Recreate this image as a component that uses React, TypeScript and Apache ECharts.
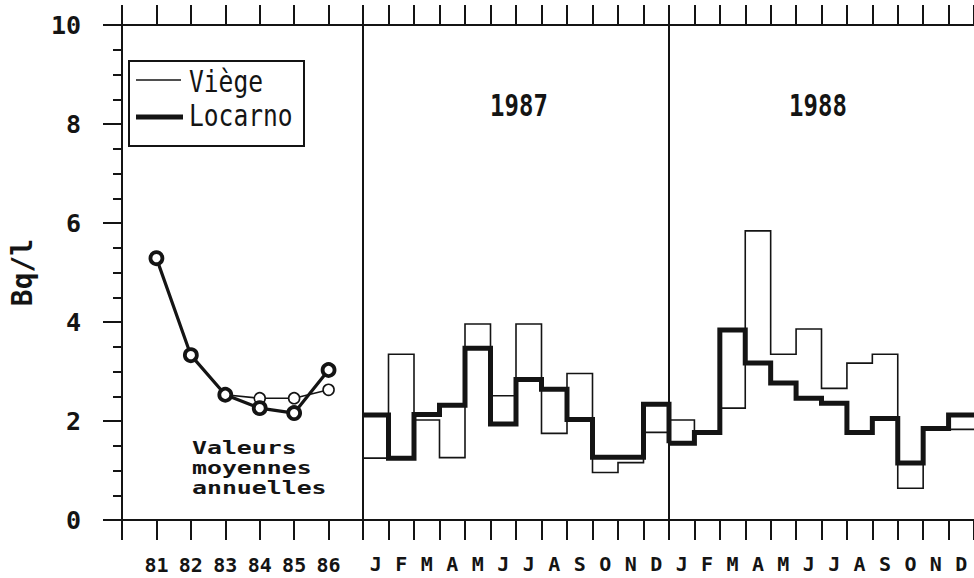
import React, { useEffect, useRef } from 'react';
import * as echarts from 'echarts';

// ---- data ----
const years = ['81', '82', '83', '84', '85', '86'];
const annualViege = [5.29, 3.33, 2.53, 2.46, 2.46, 2.63];
const annualLocarno = [5.29, 3.33, 2.53, 2.26, 2.16, 3.03];

const months = ['J', 'F', 'M', 'A', 'M', 'J', 'J', 'A', 'S', 'O', 'N', 'D'];
const viege1987 = [1.25, 3.35, 2.02, 1.26, 3.96, 2.51, 3.96, 1.75, 2.96, 0.96, 1.16, 1.77];
const locarno1987 = [2.12, 1.25, 2.13, 2.32, 3.47, 1.94, 2.84, 2.64, 2.03, 1.27, 1.27, 2.34];
const viege1988 = [2.02, 1.77, 2.26, 5.84, 3.35, 3.86, 2.66, 3.17, 3.35, 0.64, 1.85, 1.83];
const locarno1988 = [1.55, 1.77, 3.84, 3.17, 2.77, 2.46, 2.36, 1.77, 2.05, 1.15, 1.85, 2.12];

const panelTitles = ['1987', '1988'];
const yMin = 0;
const yMax = 10;
const yStep = 2;
const yName = 'Bq/l';
const legendNames = ['Viège', 'Locarno'];
const noteText = 'Valeurs\nmoyennes\nannuelles';

const INK = '#141414';
const MONO = "'DejaVu Sans Mono', monospace";

function stepData(vals: number[], next?: number) {
  const pts: number[][] = vals.map((v, i) => [i, v]);
  pts.push([vals.length, next === undefined ? vals[vals.length - 1] : next]);
  return pts;
}

export default function App() {
  const ref = useRef<HTMLDivElement>(null);

  useEffect(() => {
    if (!ref.current) return;
    const chart = echarts.init(ref.current, undefined, { renderer: 'svg' });

    const grids = [
      { left: 122, top: 25, width: 241, height: 495 },
      { left: 363, top: 25, width: 306, height: 495 },
      { left: 669, top: 25, width: 306, height: 495 },
    ];

    const tickLine = { lineStyle: { color: INK, width: 2 } };
    const labelFont = { fontFamily: MONO, fontWeight: 'bold' as const, fontSize: 20, color: INK };

    const xAxis: any[] = [
      // grid 0 bottom (years)
      {
        gridIndex: 0, type: 'value', position: 'bottom', min: 0, max: years.length + 1, interval: 1,
        axisLine: tickLine, axisTick: { show: true, inside: false, length: 20, ...tickLine },
        splitLine: { show: false },
        axisLabel: {
          ...labelFont, margin: 35,
          formatter: (v: number) => (v >= 1 && v <= years.length ? years[v - 1] : ''),
        },
      },
      // grid 0 top
      {
        gridIndex: 0, type: 'value', position: 'top', min: 0, max: years.length + 1, interval: 1,
        axisLine: tickLine, axisTick: { show: true, inside: false, length: 20, ...tickLine },
        splitLine: { show: false }, axisLabel: { show: false },
      },
    ];
    [1, 2].forEach((g) => {
      xAxis.push(
        {
          gridIndex: g, type: 'value', position: 'bottom', min: 0, max: months.length, interval: 1,
          axisLine: tickLine, axisTick: { show: true, inside: false, length: 20, ...tickLine },
          splitLine: { show: false }, axisLabel: { show: false },
        },
        {
          gridIndex: g, type: 'value', position: 'top', min: 0, max: months.length, interval: 1,
          axisLine: tickLine, axisTick: { show: true, inside: false, length: 20, ...tickLine },
          splitLine: { show: false }, axisLabel: { show: false },
        },
        {
          gridIndex: g, type: 'category', position: 'bottom', data: months, boundaryGap: true,
          axisLine: { show: false }, axisTick: { show: false }, splitLine: { show: false },
          axisLabel: { ...labelFont, margin: 34, interval: 0 },
        }
      );
    });

    const yAxis: any[] = [
      {
        gridIndex: 0, type: 'value', min: yMin, max: yMax, interval: yStep,
        name: yName, nameLocation: 'middle', nameRotate: 90, nameGap: 86,
        nameTextStyle: { fontFamily: MONO, fontWeight: 'bold', fontSize: 28, color: INK },
        axisLine: { show: true, ...tickLine },
        axisTick: { show: true, inside: false, length: 19, ...tickLine },
        minorTick: { show: true, splitNumber: 4, length: 9, lineStyle: { color: INK, width: 2 } },
        splitLine: { show: false },
        axisLabel: { fontFamily: MONO, fontWeight: 'bold', fontSize: 25, color: INK, margin: 41 },
      },
      {
        gridIndex: 1, type: 'value', min: yMin, max: yMax, interval: yStep,
        axisLine: { show: true, ...tickLine }, axisTick: { show: false },
        splitLine: { show: false }, axisLabel: { show: false },
      },
      {
        gridIndex: 2, type: 'value', min: yMin, max: yMax, interval: yStep,
        axisLine: { show: true, ...tickLine }, axisTick: { show: false },
        splitLine: { show: false }, axisLabel: { show: false },
      },
    ];

    const thin = { color: INK, width: 1.6, join: 'miter' as const };
    const thick = { color: INK, width: 5, join: 'miter' as const };

    const series: any[] = [
      {
        name: legendNames[0], type: 'line', xAxisIndex: 0, yAxisIndex: 0,
        data: annualViege.map((v, i) => [i + 1, v]),
        symbol: 'circle', symbolSize: 11,
        lineStyle: { color: INK, width: 1.6 },
        itemStyle: { color: '#fff', borderColor: INK, borderWidth: 1.6 },
        z: 3,
      },
      {
        name: legendNames[1], type: 'line', xAxisIndex: 0, yAxisIndex: 0,
        data: annualLocarno.map((v, i) => [i + 1, v]),
        symbol: 'circle', symbolSize: 12,
        lineStyle: { color: INK, width: 3.2 },
        itemStyle: { color: '#fff', borderColor: INK, borderWidth: 3.8 },
        z: 4,
      },
      {
        name: legendNames[1], type: 'line', step: 'end', xAxisIndex: 2, yAxisIndex: 1,
        data: stepData(locarno1987, locarno1988[0]), symbol: 'none', lineStyle: thick,
      },
      {
        name: legendNames[0], type: 'line', step: 'end', xAxisIndex: 2, yAxisIndex: 1,
        data: stepData(viege1987, viege1988[0]), symbol: 'none', lineStyle: thin,
      },
      {
        name: legendNames[1], type: 'line', step: 'end', xAxisIndex: 5, yAxisIndex: 2,
        data: stepData(locarno1988), symbol: 'none', lineStyle: thick,
      },
      {
        name: legendNames[0], type: 'line', step: 'end', xAxisIndex: 5, yAxisIndex: 2,
        data: stepData(viege1988), symbol: 'none', lineStyle: thin,
      },
    ];

    const graphic: any[] = [
      // legend box
      {
        type: 'rect', shape: { x: 129, y: 61, width: 175, height: 85 },
        style: { fill: '#fff', stroke: INK, lineWidth: 2 }, z: 10,
      },
      {
        type: 'line', shape: { x1: 136, y1: 80, x2: 181, y2: 80 },
        style: { stroke: INK, lineWidth: 1.6 }, z: 11,
      },
      {
        type: 'line', shape: { x1: 136, y1: 117, x2: 183, y2: 117 },
        style: { stroke: INK, lineWidth: 5 }, z: 11,
      },
      {
        type: 'text', x: 189, y: 82, scaleX: 0.82, z: 11,
        style: { text: legendNames[0], fontFamily: MONO, fontSize: 30, fill: INK, verticalAlign: 'middle', align: 'left' },
      },
      {
        type: 'text', x: 189, y: 116, scaleX: 0.82, z: 11,
        style: { text: legendNames[1], fontFamily: MONO, fontSize: 30, fill: INK, verticalAlign: 'middle', align: 'left' },
      },
      // panel titles
      {
        type: 'text', x: 519, y: 106, scaleX: 0.8, z: 11,
        style: { text: panelTitles[0], fontFamily: MONO, fontWeight: 'bold', fontSize: 30, fill: INK, align: 'center', verticalAlign: 'middle' },
      },
      {
        type: 'text', x: 818, y: 106, scaleX: 0.8, z: 11,
        style: { text: panelTitles[1], fontFamily: MONO, fontWeight: 'bold', fontSize: 30, fill: INK, align: 'center', verticalAlign: 'middle' },
      },
      // note
      {
        type: 'text', x: 192, y: 438, scaleX: 1.38, z: 11,
        style: { text: noteText, fontFamily: MONO, fontWeight: 'bold', fontSize: 18, lineHeight: 20, fill: INK, align: 'left', verticalAlign: 'top' },
      },
    ];

    chart.setOption({
      animation: false,
      backgroundColor: '#fff',
      grid: grids,
      xAxis,
      yAxis,
      series,
      graphic,
    });

    return () => chart.dispose();
  }, []);

  return (
    <div
      ref={ref}
      style={{ position: 'fixed', left: 0, top: 0, width: 974, height: 578, background: '#fff' }}
    />
  );
}
